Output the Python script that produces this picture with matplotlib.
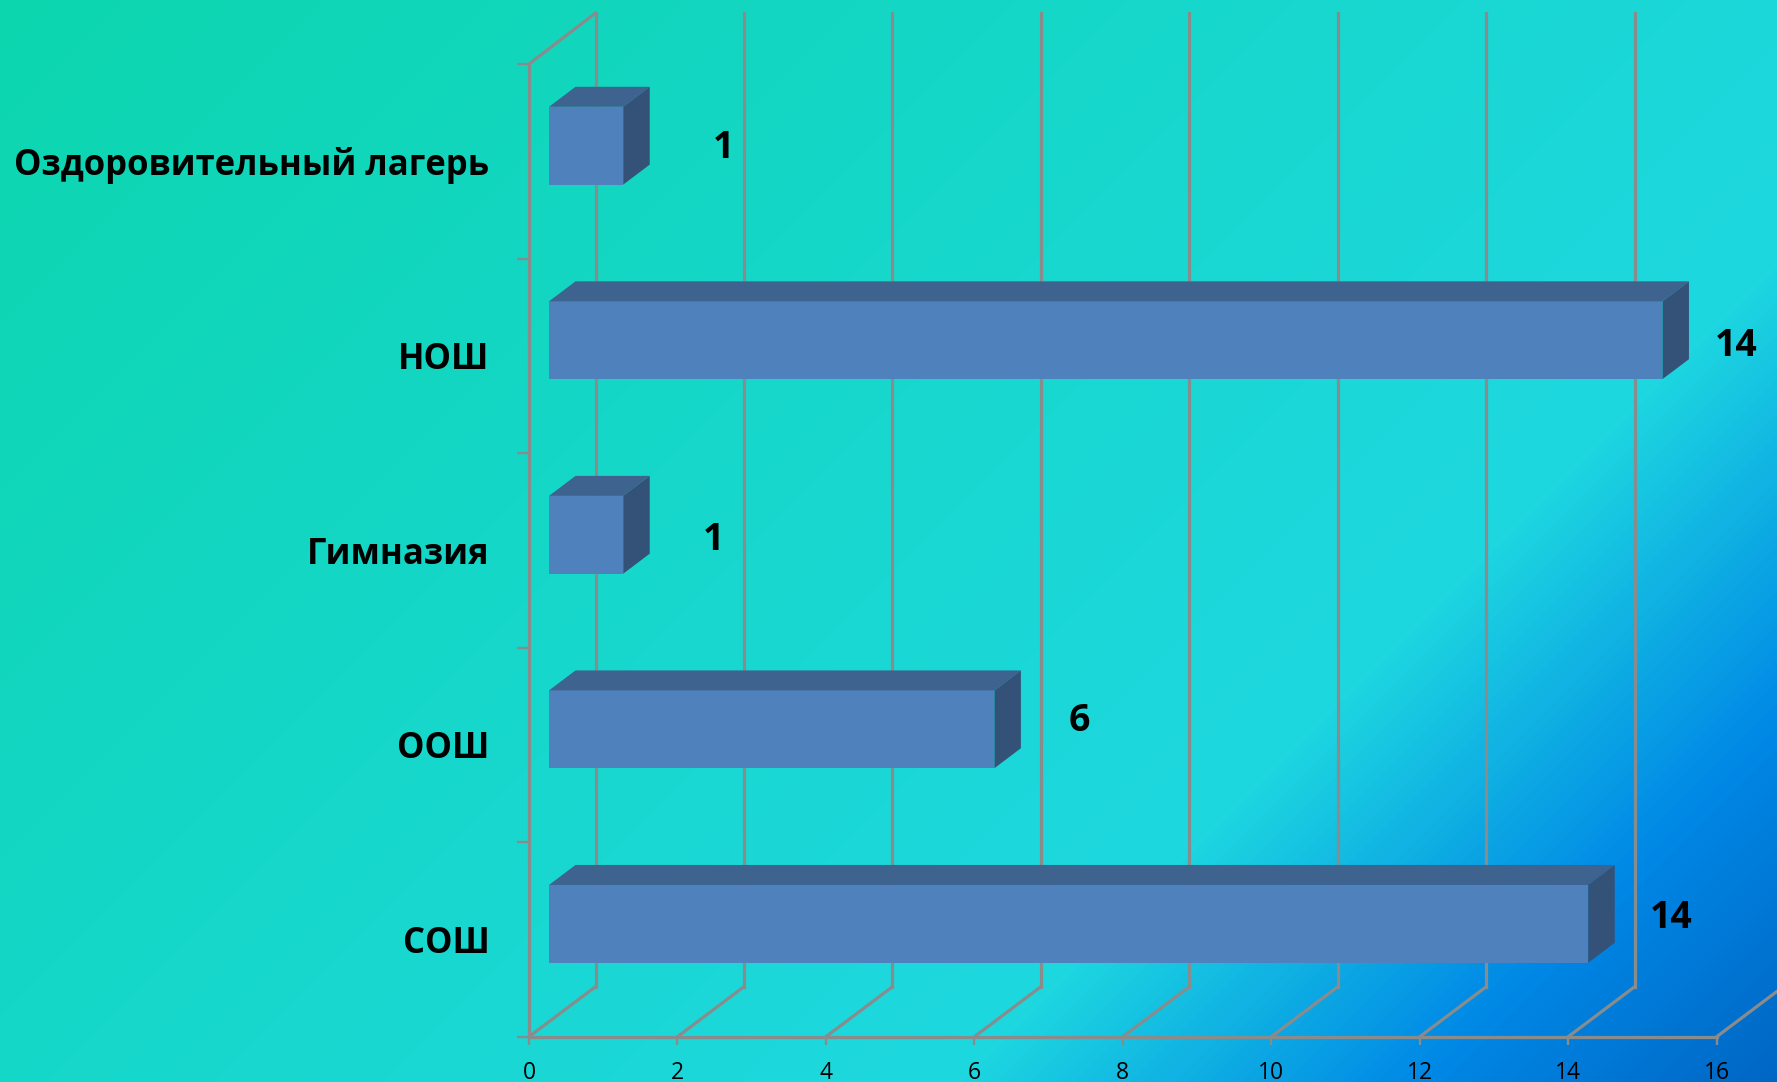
import numpy as np
import matplotlib
matplotlib.use("Agg")
import matplotlib.pyplot as plt
from matplotlib.colors import LinearSegmentedColormap
from matplotlib.patches import Polygon

categories = ["СОШ", "ООШ", "Гимназия", "НОШ", "Оздоровительный лагерь"]
bar_values = [14, 6, 1, 15, 1]
value_labels = ["14", "6", "1", "14", "1"]
x_ticks = [0, 2, 4, 6, 8, 10, 12, 14, 16]

W, H = 1777, 1082

# pixel frame of the front plane of the chart
LEFT, RIGHT, TOP, BOTTOM = 529, 1716.7, 64, 1036.7
PX_X = (RIGHT - LEFT) / 16
PX_Y = (BOTTOM - TOP) / 5

# depth of the fake 3d box, in data units
WALL_DX = 66.5 / PX_X
WALL_DY = 50 / PX_Y
WALL_TOP = 5 + 51 / PX_Y

BAR_LEFT = 20 / PX_X
BAR_SHIFT = 0.08
BAR_H = 0.40
BAR_DX = 26.5 / PX_X
BAR_DY = 20 / PX_Y

# value label offsets from the back corner of each bar, pixels
label_offsets = [(56, 6), (58, 8), (64, -5), (47, -6), (74, -2)]

GRID = "#888C8C"
FONT = ["Open Sans", "DejaVu Sans"]

plt.rcParams["font.family"] = FONT

fig = plt.figure(figsize=(W / 100, H / 100), dpi=100)

# diagonal background
bg = fig.add_axes([0, 0, 1, 1])
bg.axis("off")
yy, xx = np.mgrid[0:H, 0:W]
t = (xx + yy) / (W + H)
cmap = LinearSegmentedColormap.from_list("bg", [
    (0.0, "#0CD6AE"),
    (0.71, "#1ED8E0"),
    (0.875, "#0088E6"),
    (1.0, "#0066C4"),
])
bg.imshow(t, cmap=cmap, vmin=0, vmax=1, aspect="auto")

ax = fig.add_axes([LEFT / W, 1 - BOTTOM / H, (RIGHT - LEFT) / W, (BOTTOM - TOP) / H])
ax.patch.set_alpha(0)
ax.set_xlim(0, 16)
ax.set_ylim(0, 5)

for s in ["top", "right"]:
    ax.spines[s].set_visible(False)
for s in ["left", "bottom"]:
    ax.spines[s].set_color(GRID)
    ax.spines[s].set_linewidth(2.3)

ax.set_xticks(x_ticks)
ax.set_yticks(range(6))
ax.set_yticklabels([])
ax.set_yticks(np.arange(5) + 0.5, categories, minor=True, fontsize=24.9, fontweight="bold")
ax.tick_params(axis="x", which="major", color=GRID, width=1.7, length=5.5, labelsize=16.5, pad=12, labelcolor="black")
ax.tick_params(axis="y", which="major", color=GRID, width=1.7, length=9)
ax.tick_params(axis="y", which="minor", length=0, pad=28.5, labelcolor="black")

# walls and floor of the box
for x in x_ticks:
    ax.plot([x, x + WALL_DX], [0, WALL_DY], color=GRID, lw=2.3, clip_on=False, zorder=1)
    if x < 16:
        ax.plot([x + WALL_DX, x + WALL_DX], [WALL_DY, WALL_TOP], color=GRID, lw=2.3, clip_on=False, zorder=1)
ax.plot([0, WALL_DX], [5, WALL_TOP], color=GRID, lw=2.3, clip_on=False, zorder=1)

# bars
y_pos = np.arange(5) + 0.5 + BAR_SHIFT
ax.barh(y_pos, bar_values, left=BAR_LEFT, height=BAR_H, color="#4F81BD", zorder=3)
for i, v in enumerate(bar_values):
    x0 = BAR_LEFT
    x1 = BAR_LEFT + v
    y0 = y_pos[i] - BAR_H / 2
    y1 = y_pos[i] + BAR_H / 2
    ax.add_patch(Polygon([(x0, y1), (x1, y1), (x1 + BAR_DX, y1 + BAR_DY), (x0 + BAR_DX, y1 + BAR_DY)],
                         closed=True, color="#3E638F", lw=0, zorder=3, clip_on=False))
    ax.add_patch(Polygon([(x1, y0), (x1 + BAR_DX, y0 + BAR_DY), (x1 + BAR_DX, y1 + BAR_DY), (x1, y1)],
                         closed=True, color="#345278", lw=0, zorder=3, clip_on=False))
    ax.annotate(value_labels[i], xy=(x1 + BAR_DX, y_pos[i]), xytext=label_offsets[i], textcoords="offset pixels",
                ha="center", va="center", fontsize=27, fontweight="bold", color="black", zorder=4,
                annotation_clip=False)

fig.savefig("out.png", dpi=100)
